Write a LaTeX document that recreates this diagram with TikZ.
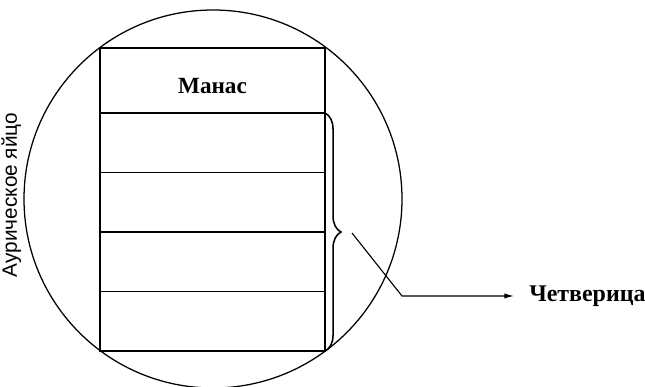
\documentclass[tikz,border=0pt]{standalone}
\usepackage{fontspec}
\setmainfont{Liberation Serif}
\setsansfont{Liberation Sans}
\usetikzlibrary{positioning,arrows.meta,decorations.pathreplacing}

\tikzset{
    cell/.style={draw, line width=1.2pt, minimum width=5.625cm, minimum height=1.4875cm, inner sep=0pt, outer sep=0pt},
    lbl/.style={font=\bfseries\fontsize{16.5}{19}\selectfont, inner sep=0pt},
}

\begin{document}
\begin{tikzpicture}[x=0.025cm, y=0.025cm, >={Latex[length=2.4mm, width=1.3mm]}]
    \useasboundingbox (0,0) rectangle (645,387);
    \draw[line width=0.9pt] (213,188) circle (189);
    \node[cell, lbl, minimum height=1.625cm, text height=0.675cm] (manas) at (212.5,306.5) {Манас};
    \node[cell] (fa) [below=0pt of manas] {};
    \node[cell] (fb) [below=0pt of fa] {};
    \node[cell] (fc) [below=0pt of fb] {};
    \node[cell] (fd) [below=0pt of fc] {};
    \node[font=\sffamily\fontsize{14.8}{17}\selectfont, rotate=90, anchor=base] (aura) at (17,192) {Аурическое яйцо};
    % brace and pointer
    \draw[line width=1.1pt, decorate, decoration={brace, amplitude=0.4cm}] (fa.north east) -- (fd.south east);
    \coordinate (bfrom) at (352,154);
    \coordinate (bend) at (402,91);
    \coordinate (aend) at (514,91);
    \node[lbl, font=\bfseries\fontsize{17}{20}\selectfont, right=0.375cm of aend] (chetv) {Четверица};
    \draw[->, line width=0.8pt] (bfrom) -- (bend) -- (aend);
\end{tikzpicture}
\end{document}
